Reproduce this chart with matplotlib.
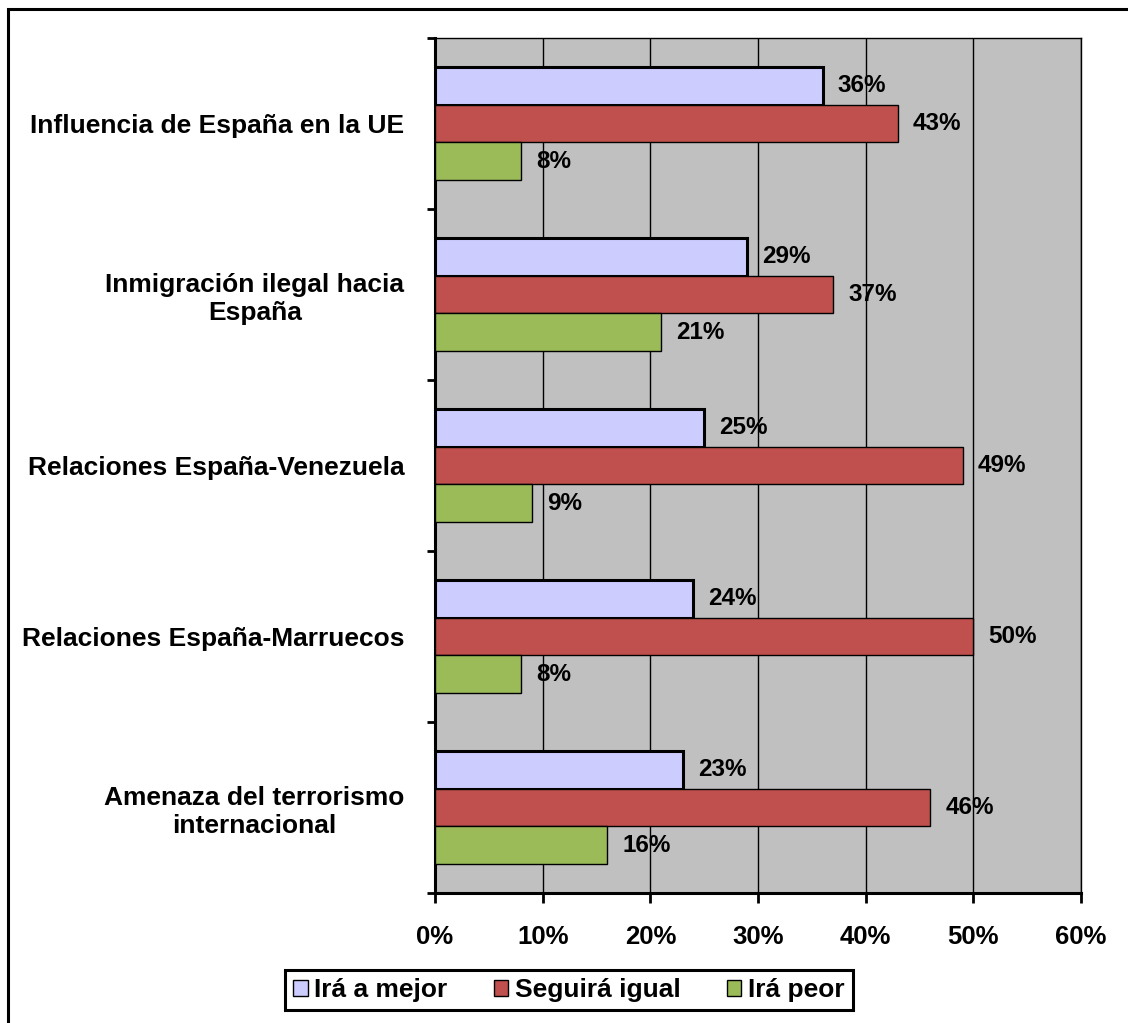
import matplotlib
matplotlib.use("Agg")
import matplotlib.pyplot as plt
from matplotlib.patches import Rectangle, Patch
import numpy as np

plt.rcParams["font.family"] = ["Liberation Sans", "DejaVu Sans"]
plt.rcParams["font.weight"] = "bold"

categories = [
    "Influencia de España en la UE",
    "Inmigración ilegal hacia\nEspaña",
    "Relaciones España-Venezuela",
    "Relaciones España-Marruecos",
    "Amenaza del terrorismo\ninternacional",
]
mejor = [36, 29, 25, 24, 23]
igual = [43, 37, 49, 50, 46]
peor = [8, 21, 9, 8, 16]
series_names = ["Irá a mejor", "Seguirá igual", "Irá peor"]
colors = ["#CCCCFF", "#C0504D", "#9BBB59"]
x_ticks = [0, 10, 20, 30, 40, 50, 60]

fig = plt.figure(figsize=(11.28, 10.23), dpi=100)
fig.patch.set_facecolor("white")
# outer frame
fig.patches.append(Rectangle((8 / 1128, -0.05), 1.2, 1 - 9 / 1023 + 0.05,
                             transform=fig.transFigure, fill=False,
                             edgecolor="black", linewidth=2.2))

ax = fig.add_axes([435 / 1128, 1 - 893 / 1023, (1081 - 435) / 1128, (893 - 38) / 1023])
ax.set_facecolor("#C0C0C0")

n = len(categories)
centers = np.arange(n)
h = 0.222
values = [mejor, igual, peor]
edge_w = [2.2, 1.0, 1.0]
for i, (vals, name, col) in enumerate(zip(values, series_names, colors)):
    ys = centers + (i - 1) * h
    ax.barh(ys, vals, height=h, color=col, edgecolor="black",
            linewidth=edge_w[i], label=name, zorder=3)
    for y, v in zip(ys, vals):
        ax.text(v + 1.4, y, f"{v}%", va="center", ha="left",
                fontsize=17.5, fontweight="bold", zorder=4)

ax.set_xlim(0, 60)
ax.set_ylim(n - 0.5, -0.5)
ax.set_xticks(x_ticks)
ax.set_xticklabels([f"{t}%" for t in x_ticks])
ax.xaxis.grid(True, color="black", linewidth=1.0, zorder=1)
ax.set_axisbelow(True)

ax.set_yticks(np.arange(n + 1) - 0.5)
ax.set_yticklabels([])
ax.set_yticks(centers, minor=True)
ax.set_yticklabels(categories, minor=True, ha="right", multialignment="center")
ax.tick_params(axis="y", which="minor", length=0, pad=22, labelsize=19)
ax.tick_params(axis="y", which="major", length=6, width=2, direction="out")
ax.tick_params(axis="x", length=7, width=2, direction="out", pad=16, labelsize=18.5)

for s in ["left", "bottom"]:
    ax.spines[s].set_linewidth(2.2)
for s in ["top", "right"]:
    ax.spines[s].set_linewidth(1.0)

handles = [Patch(facecolor=c, edgecolor="black", linewidth=1.0) for c in colors]
leg = fig.legend(handles, series_names, loc="center", bbox_to_anchor=(569 / 1128, 1 - 990 / 1023),
                 ncol=3, frameon=True, fancybox=False, fontsize=19,
                 handlelength=0.55, handleheight=0.55, handletextpad=0.25,
                 columnspacing=1.75, borderpad=0.3)
leg.get_frame().set_edgecolor("black")
leg.get_frame().set_linewidth(2.2)
leg.get_frame().set_alpha(1.0)

fig.savefig("out.png", dpi=100)
